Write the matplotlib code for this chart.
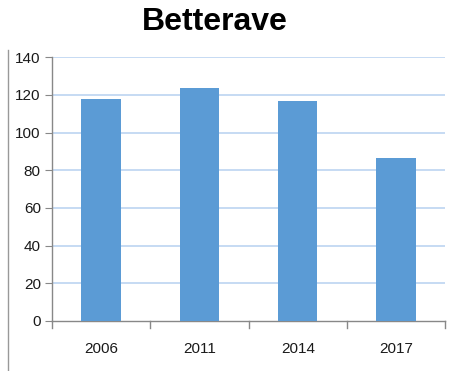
import matplotlib
matplotlib.use("Agg")
import matplotlib.pyplot as plt
from matplotlib.lines import Line2D

categories = ["2006", "2011", "2014", "2017"]
values = [118, 123.5, 116.5, 86.5]
yticks = [0, 20, 40, 60, 80, 100, 120, 140]

plt.rcParams['font.family'] = ['Liberation Sans Narrow', 'Liberation Sans', 'DejaVu Sans']

fig = plt.figure(figsize=(4.52, 3.71), dpi=100)
ax = fig.add_axes([0.115, 0.135, 0.87, 0.711])

x = list(range(len(categories)))
ax.bar(x, values, width=0.4, color="#5b9bd5", zorder=3)
ax.set_xlim(-0.5, len(categories) - 0.5)
ax.set_ylim(0, 140)
ax.set_yticks(yticks)
ax.set_yticklabels([str(t) for t in yticks], fontsize=11, color="#1a1a1a")
for t in yticks[1:]:
    ax.axhline(t, color="#c6daf3", lw=1.4, zorder=1)

ax.set_xticks(x)
ax.set_xticklabels(categories, fontsize=11, color="#1a1a1a")
ax.tick_params(axis='x', length=0, pad=15)
for b in [i - 0.5 for i in range(len(categories) + 1)]:
    ax.plot([b, b], [0, -0.025], transform=ax.get_xaxis_transform(), color="#888888",
            lw=1, clip_on=False)
ax.tick_params(axis='y', length=5, color="#888888", pad=3)

for s in ["top", "right"]:
    ax.spines[s].set_visible(False)
for s in ["left", "bottom"]:
    ax.spines[s].set_color("#888888")
    ax.spines[s].set_linewidth(1)

fig.text(0.476, 0.94, "Betterave", ha="center", va="center", fontsize=23,
         fontweight="bold", family=["Liberation Sans", "DejaVu Sans"])
fig.add_artist(Line2D([0.018, 0.018], [0.0, 0.865], color="#999999", lw=1))

fig.savefig("out.png", dpi=100)
